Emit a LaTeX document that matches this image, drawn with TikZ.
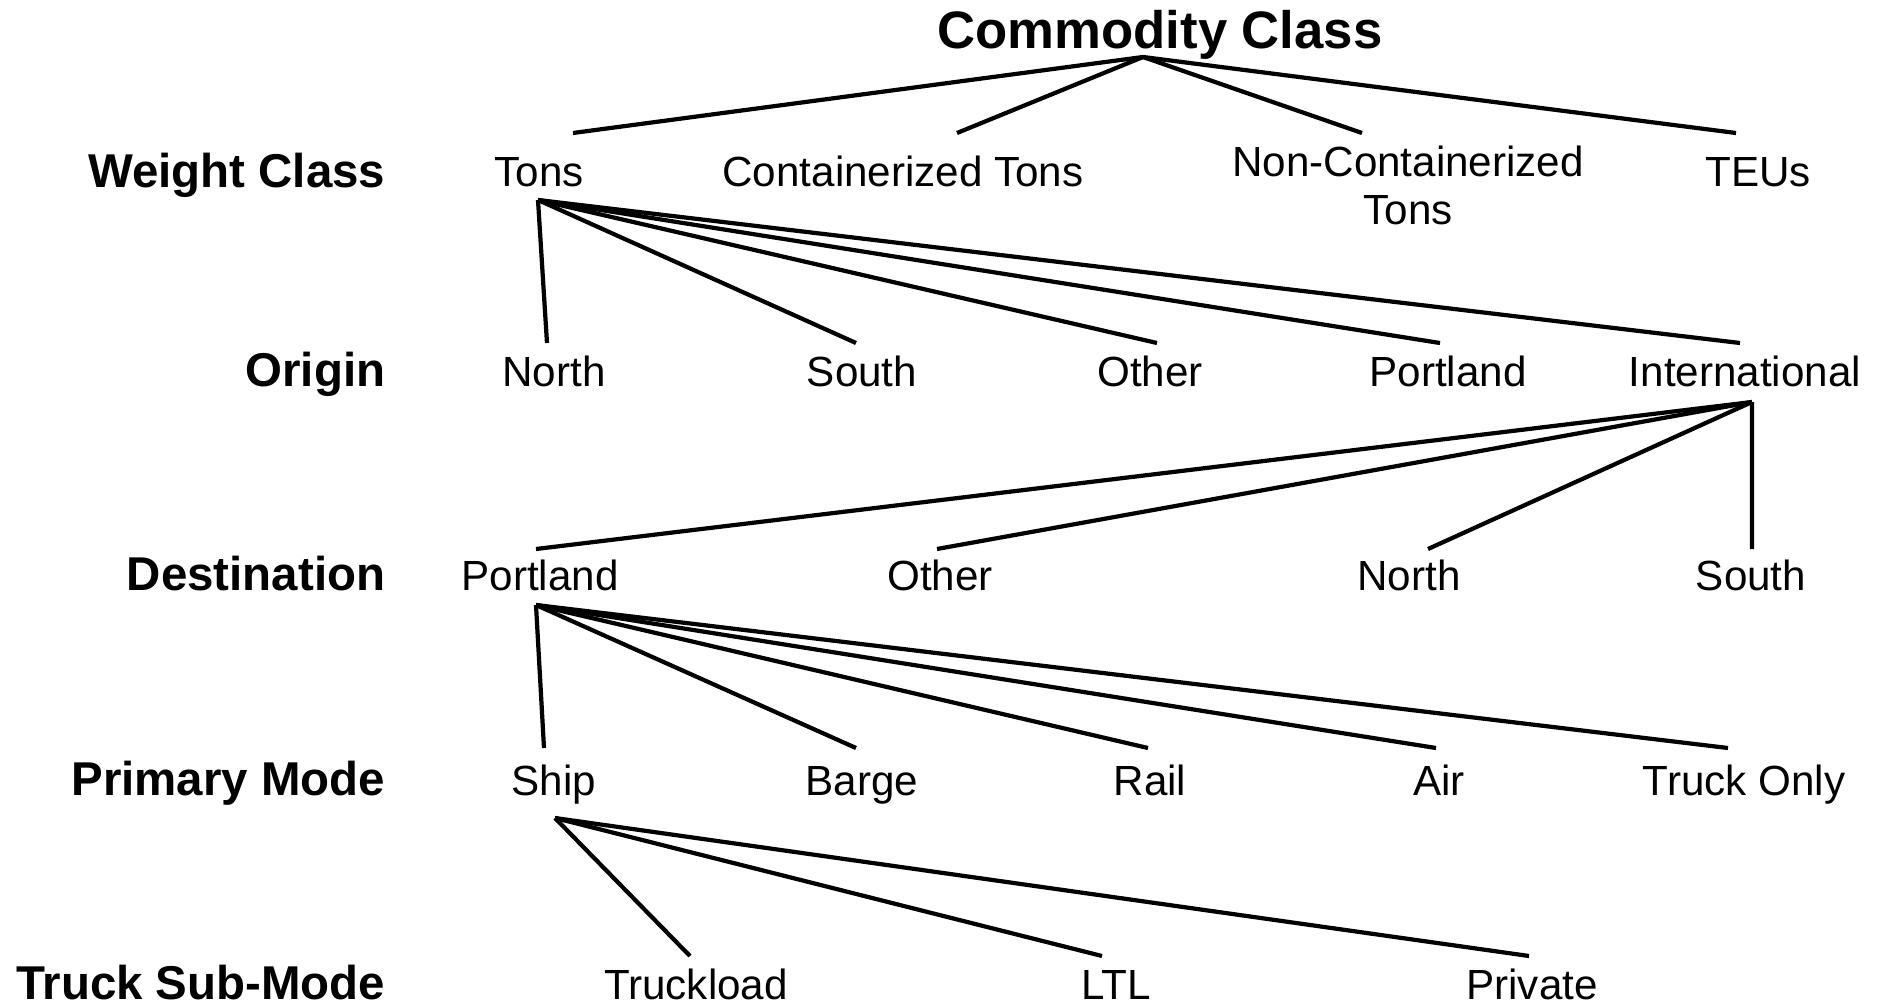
\documentclass[tikz,border=0pt]{standalone}
\usepackage{fontspec}
\setmainfont{Liberation Sans}

\begin{document}
\begin{tikzpicture}[every node/.style={inner sep=0pt},
  lbl/.style={font=\fontsize{12}{13.7}\selectfont, anchor=base,
    text height=8.6pt, text depth=2.5pt},
  rowlbl/.style={font=\bfseries\fontsize{13.5}{16}\selectfont,
    anchor=base east},
  link/.style={line width=1.2pt}]
  \path[use as bounding box] (0,0) rectangle (18.81,10.06);
  % row titles, right edge at x = 3.86
  \foreach \y/\lab [count=\i] in {8.19/Weight Class, 6.20/Origin,
      4.16/Destination, 2.11/Primary Mode, 0.07/Truck Sub-Mode}
    \node[rowlbl] (row\i) at (3.86,\y) {\lab};
  \node[font=\bfseries\fontsize{15}{18}\selectfont, anchor=base] (cc)
    at (11.60,9.58) {Commodity Class};
  % weight class
  \node[lbl] (wtons) at (5.39,8.20) {Tons};
  \node[lbl] (wcont) at (9.03,8.20) {Containerized Tons};
  \node[font=\fontsize{12}{13.7}\selectfont, align=center, anchor=north]
    (wnon) at (14.08,8.61) {Non-Containerized\\Tons};
  \node[lbl] (wteu) at (17.58,8.20) {TEUs};
  % origin
  \node[lbl] (onorth) at (5.54,6.20) {North};
  \node[lbl] (osouth) at (8.62,6.20) {South};
  \node[lbl] (oother) at (11.50,6.20) {Other};
  \node[lbl] (oport) at (14.48,6.20) {Portland};
  \node[lbl] (ointl) at (17.45,6.20) {International};
  % destination
  \node[lbl] (dport) at (5.40,4.16) {Portland};
  \node[lbl] (dother) at (9.40,4.16) {Other};
  \node[lbl] (dnorth) at (14.09,4.16) {North};
  \node[lbl] (dsouth) at (17.51,4.16) {South};
  % primary mode
  \node[lbl] (pship) at (5.54,2.11) {Ship};
  \node[lbl] (pbarge) at (8.62,2.11) {Barge};
  \node[lbl] (prail) at (11.50,2.11) {Rail};
  \node[lbl] (pair) at (14.39,2.11) {Air};
  \node[lbl] (ptruck) at (17.44,2.11) {Truck Only};
  % truck sub-mode
  \node[lbl] (struck) at (6.96,0.07) {Truckload};
  \node[lbl] (sltl) at (11.16,0.07) {LTL};
  \node[lbl] (spriv) at (15.32,0.07) {Private};
  % links, shifts in mm from the base of each label
  \foreach \c/\dx in {wtons/3.4, wcont/5.4, wteu/-2.2}
    \draw[link] ([shift={(-1.7mm,-0.9mm)}]cc.base)
      -- ([shift={(\dx mm,5.3mm)}]\c.base);
  \draw[link] ([shift={(-1.7mm,-0.9mm)}]cc.base)
    -- ([shift={(-4.6mm,1.2mm)}]wnon.north);
  \foreach \c/\dx in {onorth/-0.7, osouth/-0.6, oother/0.7, oport/-0.8,
      ointl/-0.5}
    \draw[link] ([shift={(-0.1mm,-1.4mm)}]wtons.base)
      -- ([shift={(\dx mm,4.3mm)}]\c.base);
  \foreach \c/\dx in {dport/-0.4, dother/-0.3, dnorth/1.9, dsouth/0.1}
    \draw[link] ([shift={(0.7mm,-1.6mm)}]ointl.base)
      -- ([shift={(\dx mm,4.1mm)}]\c.base);
  \foreach \c/\dx in {pship/-1.0, pbarge/-0.6, prail/-0.2, pair/-0.3,
      ptruck/-1.6}
    \draw[link] ([shift={(-0.4mm,-1.5mm)}]dport.base)
      -- ([shift={(\dx mm,4.7mm)}]\c.base);
  \foreach \c/\dx in {struck/-0.6, sltl/-1.4, spriv/-0.3}
    \draw[link] ([shift={(0.1mm,-2.3mm)}]pship.base)
      -- ([shift={(\dx mm,4.3mm)}]\c.base);
\end{tikzpicture}
\end{document}
